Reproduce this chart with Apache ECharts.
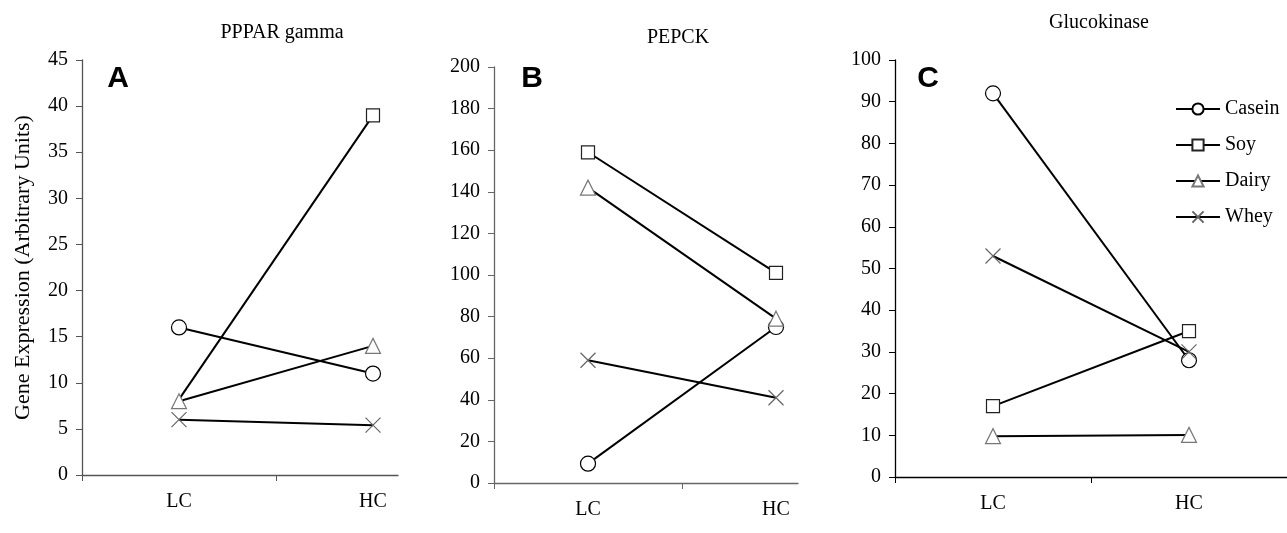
<!DOCTYPE html>
<html>
<head>
<meta charset="utf-8">
<script src="https://cdn.jsdelivr.net/npm/echarts@6/dist/echarts.min.js"></script>
<style>
  html, body { margin: 0; padding: 0; background: #fff; }
  #chart { width: 1287px; height: 533px; }
</style>
</head>
<body>
<div id="chart"></div>
<script>
// data
var categories = ['LC', 'HC'];
var dietNames = ['Casein', 'Soy', 'Dairy', 'Whey'];
var panelTitles = ['PPPAR gamma', 'PEPCK', 'Glucokinase'];
var panelLetters = ['A', 'B', 'C'];
var yMax = [45, 200, 100];
var yStep = [5, 20, 10];

var pparCasein = [16, 11];
var pparSoy = [8.2, 39];
var pparDairy = [8, 14];
var pparWhey = [6, 5.4];

var pepckCasein = [9.3, 75];
var pepckSoy = [159, 101];
var pepckDairy = [142, 79];
var pepckWhey = [59, 41];

var gkCasein = [92, 28];
var gkSoy = [17, 35];
var gkDairy = [9.8, 10.1];
var gkWhey = [53, 30];

var panelData = [
  [pparCasein, pparSoy, pparDairy, pparWhey],
  [pepckCasein, pepckSoy, pepckDairy, pepckWhey],
  [gkCasein, gkSoy, gkDairy, gkWhey]
];

// layout
var grids = [
  {left: 82, top: 60, width: 316, height: 415, xMax: 316 / 194, axisColor: '#555'},
  {left: 494, top: 67, width: 304, height: 416, xMax: 304 / 188, axisColor: '#666'},
  {left: 895, top: 60, width: 392, height: 417, xMax: 2, axisColor: '#000'}
];
var titlePos = [[282, 23], [678, 28], [1099, 13]];
var letterPos = [[118, 64], [532, 64], [928, 64]];
// markers not drawn in the original: [panel, series, category]
var hiddenMarks = [[0, 1, 0]];

var serif = 'Liberation Serif, Times New Roman, serif';
var symbols = ['circle', 'rect', 'triangle', 'path://M0,0L10,10M10,0L0,10'];
var symbolSizes = [15, 13, 15, 15];
var markerColors = ['#000', '#222', '#777', '#666'];

var chart = echarts.init(document.getElementById('chart'));

function isHidden(p, s, c) {
  return hiddenMarks.some(function (h) { return h[0] === p && h[1] === s && h[2] === c; });
}

var titles = [], gridOpt = [], xAxes = [], yAxes = [], series = [];
grids.forEach(function (g, i) {
  titles.push({
    text: panelTitles[i], left: titlePos[i][0], top: titlePos[i][1], textAlign: 'center', padding: 0,
    textStyle: {fontFamily: serif, fontSize: 20, fontWeight: 'normal', color: '#000'}
  });
  titles.push({
    text: panelLetters[i], left: letterPos[i][0], top: letterPos[i][1], textAlign: 'center', padding: 0,
    textStyle: {fontFamily: 'Liberation Sans, Arial, sans-serif', fontSize: 30, fontWeight: 'bold', color: '#000'}
  });
  gridOpt.push({left: g.left, top: g.top, width: g.width, height: g.height});
  xAxes.push({
    type: 'value', gridIndex: i, min: 0, max: g.xMax,
    axisLine: {show: true, onZero: false, lineStyle: {color: g.axisColor, width: 1.3}},
    axisTick: {show: true, length: 6, customValues: [0, 1], lineStyle: {color: g.axisColor}},
    axisLabel: {
      show: true, customValues: [0.5, 1.5], margin: 17,
      fontFamily: serif, fontSize: 20, color: '#000',
      formatter: function (v) { return categories[Math.round(v - 0.5)]; }
    },
    splitLine: {show: false}
  });
  yAxes.push({
    type: 'value', gridIndex: i, min: 0, max: yMax[i], interval: yStep[i],
    name: i === 0 ? 'Gene Expression (Arbitrary Units)' : '',
    nameLocation: 'middle', nameGap: 48,
    nameTextStyle: {fontFamily: serif, fontSize: 22, color: '#000'},
    axisLine: {show: true, lineStyle: {color: g.axisColor, width: 1.3}},
    axisTick: {show: true, length: 6, lineStyle: {color: g.axisColor}},
    axisLabel: {margin: 14, fontFamily: serif, fontSize: 20, color: '#000'},
    splitLine: {show: false}
  });
  panelData[i].forEach(function (vals, s) {
    series.push({
      name: dietNames[s], type: 'line', xAxisIndex: i, yAxisIndex: i,
      data: vals.map(function (v, c) {
        var d = {value: [c + 0.5, v]};
        if (isHidden(i, s, c)) d.symbol = 'none';
        return d;
      }),
      symbol: symbols[s], symbolSize: symbolSizes[s], showAllSymbol: true,
      color: '#000',
      lineStyle: {color: '#000', width: 2},
      itemStyle: {color: '#fff', borderColor: markerColors[s], borderWidth: 1.2},
      emphasis: {disabled: true},
      animation: false
    });
  });
});

chart.setOption({
  backgroundColor: '#fff',
  animation: false,
  title: titles,
  grid: gridOpt,
  xAxis: xAxes,
  yAxis: yAxes,
  legend: {
    orient: 'vertical', left: 1175, top: 99, padding: 0,
    data: dietNames, itemWidth: 44, itemHeight: 14, itemGap: 16,
    textStyle: {fontFamily: serif, fontSize: 20, color: '#000'}
  },
  series: series
});
</script>
</body>
</html>
